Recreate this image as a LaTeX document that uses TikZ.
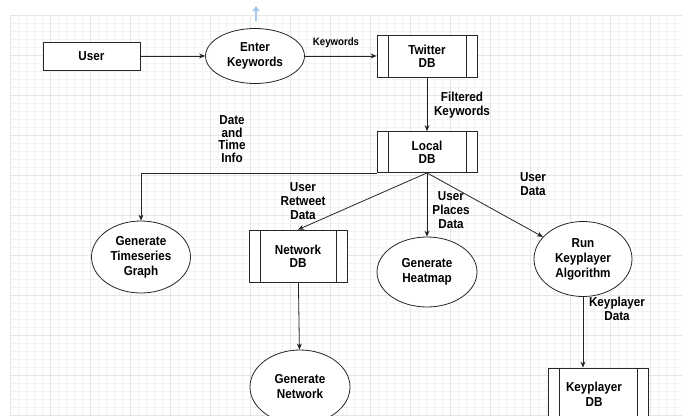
\documentclass[tikz,border=0pt]{standalone}
\usepackage{fontspec}
\setmainfont{Liberation Sans}[FakeStretch=0.9]
\usetikzlibrary{shapes.geometric,arrows.meta,calc}
\definecolor{handleblue}{RGB}{165,200,238}
\begin{document}
\begin{tikzpicture}[x=1pt,y=-1pt,
  every node/.style={font=\fontsize{13}{15}\selectfont\bfseries, align=center, inner sep=0pt},
  base/.style={draw=black!85, line width=0.8pt, fill=white},
  ent/.style={base, rectangle},
  proc/.style={base, ellipse},
  store/.style={base, rectangle, font=\fontsize{13}{13}\selectfont\bfseries, path picture={
     \draw[black!85, line width=0.8pt]
       ([xshift=11pt]path picture bounding box.north west) -- ([xshift=11pt]path picture bounding box.south west)
       ([xshift=-11pt]path picture bounding box.north east) -- ([xshift=-11pt]path picture bounding box.south east);}},
  flow/.style={draw=black!85, line width=0.8pt, -{Stealth[length=6pt,width=5pt]}},
  lbl/.style={font=\fontsize{13}{14}\selectfont\bfseries},
  minorgrid/.style={draw=black!5, line width=0.4pt},
  majorgrid/.style={draw=black!10, line width=0.5pt}
]
\useasboundingbox (0,0) rectangle (682,415);
\fill[white] (0,0) rectangle (682,415);
% grid
\foreach \gx in {10,18,...,682} {\draw[minorgrid] (\gx,15) -- (\gx,415);}
\foreach \gy in {15,23,...,415} {\draw[minorgrid] (10,\gy) -- (682,\gy);}
\foreach \gx in {10,50,...,682} {\draw[majorgrid] (\gx,15) -- (\gx,415);}
\foreach \gy in {15,55,...,415} {\draw[majorgrid] (10,\gy) -- (682,\gy);}
% faint handle arrow
\coordinate (hb) at (256,21);
\coordinate (ht) at (256,6);
\draw[handleblue, line width=1.8pt, -{Triangle[length=5pt,width=7pt]}] (hb) -- (ht);

% nodes
\node[ent, minimum width=97pt, minimum height=28pt] (user) at (91.5,56) {User};
\node[proc, minimum width=99pt, minimum height=55pt] (enter) at (255,56) {Enter\\Keywords};
\node[store, minimum width=100pt, minimum height=42pt] (twitter) at (427,56) {Twitter\\DB};
\node[store, minimum width=100pt, minimum height=41pt] (local) at (427,152) {Local\\DB};
\node[proc, minimum width=99pt, minimum height=72pt] (ts) at (141,257) {Generate\\Timeseries\\Graph};
\node[store, minimum width=98pt, minimum height=52pt] (netdb) at (298,256) {Network\\DB};
\node[proc, minimum width=100pt, minimum height=70pt] (heat) at (427,272) {Generate\\Heatmap};
\node[proc, minimum width=98pt, minimum height=75pt] (run) at (583,259) {Run\\Keyplayer\\Algorithm};
\node[proc, minimum width=100pt, minimum height=74pt] (netgen) at (300,387) {Generate\\Network};
\node[store, minimum width=100pt, minimum height=64pt] (kpdb) at (598,400) {};
\node[font=\fontsize{13}{15}\selectfont\bfseries] (kptext) at (594,394) {Keyplayer\\DB};

% connectors
\draw[flow] (user) -- (enter);
\draw[flow] (enter) -- (twitter);
\draw[flow] (twitter) -- (local);
\draw[flow] (local.south west) -| (ts.north);
\draw[flow] (local.south) -- (netdb.north);
\draw[flow] (local.south) -- (heat.north);
\draw[flow] (local.south) -- (run);
\draw[flow] (netdb) -- (netgen);
\draw[flow] (run.south) -- (run.south |- kpdb.north);

% labels
\node[font=\fontsize{10.7}{12}\selectfont\bfseries] (lkw) at (336,43) {Keywords};
\node[lbl] (lfk) at (462,105) {Filtered\\Keywords};
\node[lbl, font=\fontsize{13}{12.7}\selectfont\bfseries] (ldt) at (232,139) {Date\\and\\Time\\Info};
\node[lbl] (lrt) at (303,201) {User\\Retweet\\Data};
\node[lbl] (lpl) at (451,210) {User\\Places\\Data};
\node[lbl] (lud) at (533,184) {User\\Data};
\node[lbl] (lkd) at (617,309) {Keyplayer\\Data};
\end{tikzpicture}
\end{document}
